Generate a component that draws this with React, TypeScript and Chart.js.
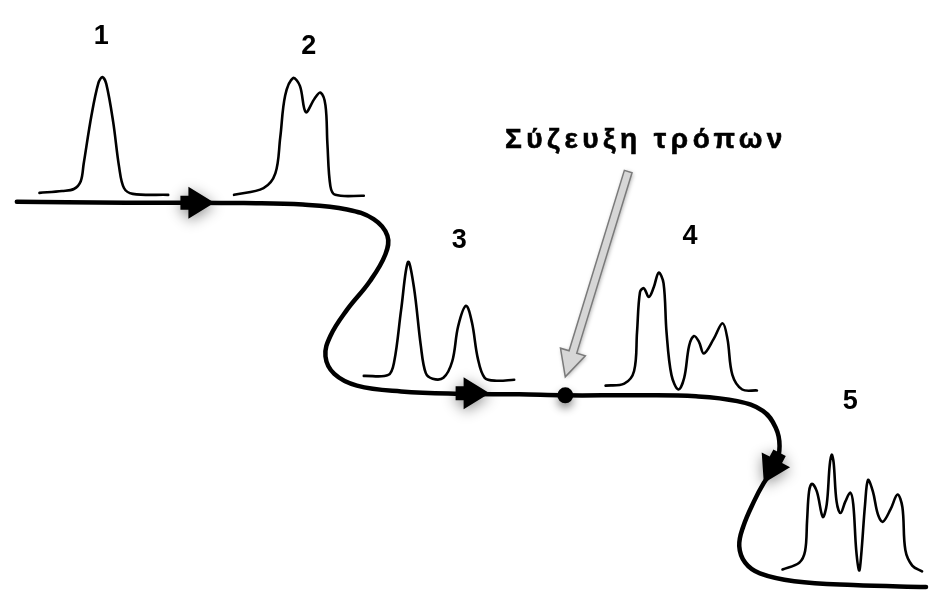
import React, { useEffect, useRef } from "react";
import { Chart, registerables } from "chart.js";

Chart.register(...registerables);

// ---- data (diagram coordinates: x 0..934, y 0..596 top-down) ----
const mainPathX = [9, 60, 120, 180, 240, 300, 345, 372, 386, 384, 368, 345, 328, 323, 332, 355, 400, 460, 520, 567, 640, 700, 742, 768, 781, 785, 781, 769, 759, 748, 744, 750, 765, 800, 860, 934];
const mainPathY = [199, 199.5, 200, 200, 200.5, 202, 207, 217, 234, 253, 281, 310, 337, 358, 376, 388, 394, 396.5, 397, 398, 398, 399, 404, 414, 431, 450, 470, 488, 507, 533, 553, 570, 581, 589, 593, 595];

const pulse1X = [32, 55, 67, 74, 77, 85, 92, 96, 100, 107, 113, 118, 127, 163];
const pulse1Y = [190, 188, 186, 178, 160, 110, 77, 71, 78, 117, 163, 185, 191, 192];

const pulse2X = [230, 260, 272, 277, 282, 290, 297, 303, 312, 318, 323, 325, 328, 333, 362];
const pulse2Y = [192, 185, 170, 133, 90, 72, 80, 107, 93, 87, 100, 140, 183, 192, 193];

const pulse3X = [362, 387, 393, 400, 407, 413, 420, 425, 432, 443, 452, 458, 466, 472, 478, 485, 497, 515];
const pulse3Y = [378, 377, 363, 310, 261, 287, 347, 375, 381, 380, 363, 327, 306, 323, 360, 380, 383, 382];

const pulse4X = [608, 627, 637, 640, 643, 647, 652, 657, 662, 667, 670, 675, 682, 688, 693, 698, 703, 708, 718, 727, 732, 737, 747, 762];
const pulse4Y = [388, 386, 373, 333, 292, 288, 297, 287, 272, 283, 333, 377, 392, 380, 347, 337, 343, 355, 340, 324, 340, 377, 392, 393];

const pulse5X = [788, 805, 811, 813, 815, 818, 823, 829, 833, 836, 838, 840, 843, 847, 852, 857, 860, 863, 866, 868, 872, 875, 880, 885, 890, 898, 905, 910, 913, 920, 930];
const pulse5Y = [577, 570, 558, 527, 497, 489, 497, 523, 510, 470, 459, 467, 507, 519, 507, 498, 510, 557, 578, 563, 510, 485, 497, 520, 528, 515, 500, 513, 557, 573, 579];

const dotX = [567];
const dotY = [398];

const arrowTipX = [210, 490, 769];
const arrowTipY = [200, 396, 488];
const arrowAngleDeg = [0, 0, 117.6];

const greyArrowFrom = [631, 168];
const greyArrowTo = [567, 379];

const stageLabels = ["1", "2", "3", "4", "5"];
const stageLabelX = [95, 306, 459, 694, 857];
const stageLabelY = [37, 47, 247, 242, 412];

const titleText = "Σύζευξη τρόπων";
const titleX = 647;
const titleY = 144;

const DOT_DATASET_INDEX = 6;

const toPoints = (xs: number[], ys: number[]) => xs.map((v, i) => ({ x: v, y: ys[i] }));

const diagramPlugin = {
  id: "diagram",
  beforeDatasetDraw(chart: any, args: any) {
    if (args.index === DOT_DATASET_INDEX) {
      const ctx = chart.ctx;
      ctx.save();
      ctx.shadowColor = "rgba(0,0,0,0.45)";
      ctx.shadowBlur = 8;
      ctx.shadowOffsetX = 0;
      ctx.shadowOffsetY = 5;
    }
  },
  afterDatasetDraw(chart: any, args: any) {
    if (args.index === DOT_DATASET_INDEX) {
      chart.ctx.restore();
    }
  },
  afterDatasetsDraw(chart: any) {
    const { ctx, scales } = chart;
    const xs = scales.x;
    const ys = scales.y;
    const px = (v: number) => xs.getPixelForValue(v);
    const py = (v: number) => ys.getPixelForValue(v);

    // grey arrow
    {
      const x0 = px(greyArrowFrom[0]);
      const y0 = py(greyArrowFrom[1]);
      const x1 = px(greyArrowTo[0]);
      const y1 = py(greyArrowTo[1]);
      const dx = x1 - x0;
      const dy = y1 - y0;
      const len = Math.hypot(dx, dy);
      const ang = Math.atan2(dy, dx);
      const headLen = 26;
      const headHalf = 13;
      const shaftHalf = 4;
      ctx.save();
      ctx.translate(x0, y0);
      ctx.rotate(ang);
      ctx.beginPath();
      ctx.moveTo(0, -shaftHalf);
      ctx.lineTo(len - headLen, -shaftHalf);
      ctx.lineTo(len - headLen, -headHalf);
      ctx.lineTo(len, 0);
      ctx.lineTo(len - headLen, headHalf);
      ctx.lineTo(len - headLen, shaftHalf);
      ctx.lineTo(0, shaftHalf);
      ctx.closePath();
      ctx.shadowColor = "rgba(0,0,0,0.35)";
      ctx.shadowBlur = 4;
      ctx.shadowOffsetX = 1;
      ctx.shadowOffsetY = 1;
      ctx.fillStyle = "#d6d6d6";
      ctx.fill();
      ctx.shadowColor = "transparent";
      ctx.lineWidth = 1.5;
      ctx.strokeStyle = "#7a7a7a";
      ctx.lineJoin = "miter";
      ctx.stroke();
      ctx.restore();
    }

    // black arrowheads
    for (let i = 0; i < arrowTipX.length; i++) {
      const tx = px(arrowTipX[i]);
      const ty = py(arrowTipY[i]);
      const a = (arrowAngleDeg[i] * Math.PI) / 180;
      ctx.save();
      ctx.translate(tx, ty);
      ctx.rotate(a);
      ctx.beginPath();
      ctx.moveTo(0, 0);
      ctx.lineTo(-26, -16);
      ctx.lineTo(-26, -7);
      ctx.lineTo(-34, -7);
      ctx.lineTo(-34, 7);
      ctx.lineTo(-26, 7);
      ctx.lineTo(-26, 16);
      ctx.closePath();
      ctx.shadowColor = "rgba(0,0,0,0.45)";
      ctx.shadowBlur = 14;
      ctx.shadowOffsetX = 0;
      ctx.shadowOffsetY = 3;
      ctx.fillStyle = "#000";
      ctx.fill();
      ctx.restore();
    }

    // stage labels
    ctx.save();
    ctx.fillStyle = "#000";
    ctx.textAlign = "center";
    ctx.textBaseline = "alphabetic";
    ctx.font = "bold 27px Arial";
    for (let i = 0; i < stageLabels.length; i++) {
      ctx.fillText(stageLabels[i], px(stageLabelX[i]), py(stageLabelY[i]));
    }
    ctx.restore();

    // title
    ctx.save();
    ctx.fillStyle = "#000";
    ctx.strokeStyle = "#000";
    ctx.lineWidth = 0.6;
    ctx.textBaseline = "alphabetic";
    ctx.textAlign = "center";
    ctx.font = "bold 28px Arial";
    (ctx as any).letterSpacing = "4.5px";
    ctx.fillText(titleText, px(titleX) + 2, py(titleY));
    ctx.strokeText(titleText, px(titleX) + 2, py(titleY));
    ctx.restore();
  },
};

export default function App() {
  const ref = useRef<HTMLCanvasElement | null>(null);

  useEffect(() => {
    document.body.style.margin = "0";
    const canvas = ref.current;
    if (!canvas) return;
    const lineDs = (xs: number[], ys: number[], width: number, tension: number) => ({
      data: toPoints(xs, ys),
      showLine: true,
      borderColor: "#000",
      borderWidth: width,
      pointRadius: 0,
      pointHoverRadius: 0,
      tension,
      fill: false,
      clip: false as any,
      borderCapStyle: "round" as const,
      borderJoinStyle: "round" as const,
    });
    const chart = new Chart(canvas, {
      type: "scatter",
      data: {
        datasets: [
          lineDs(mainPathX, mainPathY, 4.5, 0.4),
          lineDs(pulse1X, pulse1Y, 2.6, 0.35),
          lineDs(pulse2X, pulse2Y, 2.6, 0.35),
          lineDs(pulse3X, pulse3Y, 2.6, 0.35),
          lineDs(pulse4X, pulse4Y, 2.6, 0.35),
          lineDs(pulse5X, pulse5Y, 2.6, 0.35),
          {
            data: toPoints(dotX, dotY),
            showLine: false,
            pointRadius: 8,
            pointBackgroundColor: "#000",
            pointBorderColor: "#000",
            pointBorderWidth: 0,
            clip: false as any,
          },
        ] as any,
      },
      options: {
        animation: false,
        responsive: false,
        devicePixelRatio: 1,
        layout: { padding: 0 },
        events: [],
        plugins: {
          legend: { display: false },
          tooltip: { enabled: false },
          title: { display: false },
        },
        scales: {
          x: { type: "linear", min: 0, max: 934, display: false },
          y: { type: "linear", min: 0, max: 596, reverse: true, display: false },
        },
      },
      plugins: [diagramPlugin],
    });
    return () => chart.destroy();
  }, []);

  return (
    <div style={{ position: "absolute", left: 0, top: 0, width: 934, height: 596, background: "#fff" }}>
      <canvas ref={ref} width={934} height={596} style={{ display: "block" }} />
    </div>
  );
}
